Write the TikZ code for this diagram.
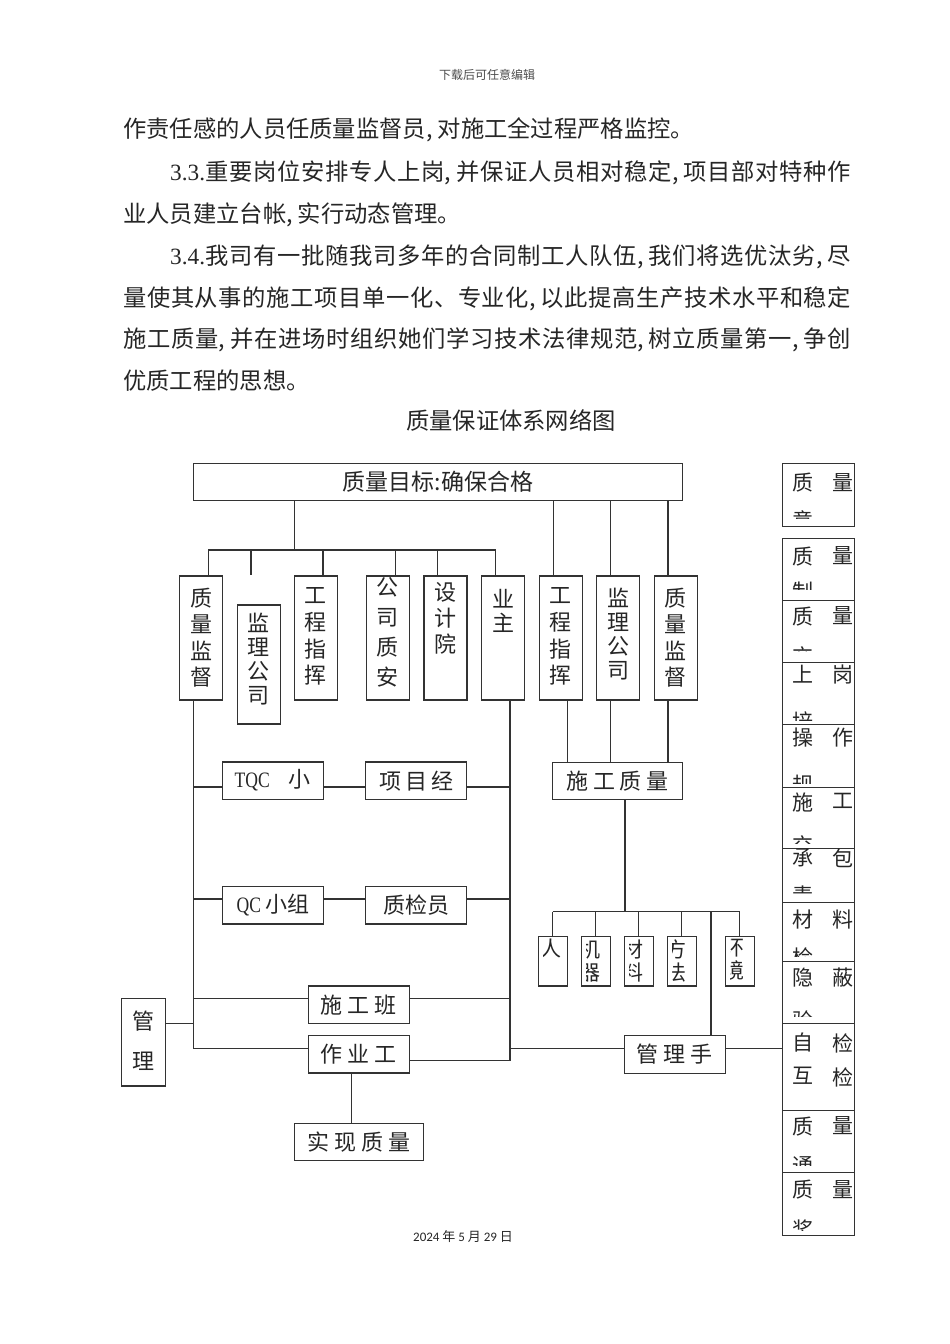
\documentclass[tikz,border=0pt]{standalone}
\usepackage{fontspec}
\setmainfont{Liberation Serif}
\newfontfamily\cjk{Noto Sans CJK SC}
\newfontfamily\latin[FakeStretch=0.8]{Liberation Serif}
\newfontfamily\datefont{Carlito}
% stretch between characters for the justified lines
\newcount\hanchar
\hanchar="4E00
\loop
  \XeTeXcharclass\hanchar=1
  \advance\hanchar 1
\ifnum\hanchar<"A000 \repeat
\XeTeXcharclass"3001=3
\XeTeXcharclass"3002=3
\XeTeXcharclass"FF0C=3
\XeTeXinterchartoks 1 1 = {\hskip 0pt plus 1fil\relax}
\XeTeXinterchartoks 0 1 = {\hskip 0pt plus 1fil\relax}
\XeTeXinterchartoks 1 0 = {\hskip 0pt plus 1fil\relax}
\XeTeXinterchartoks 1 3 = {\hskip 0pt plus 1fil\relax}
\XeTeXinterchartoks 3 1 = {\hskip 0pt plus 1fil\relax}
\newcommand\jline[2]{\hbox to #1{\XeTeXinterchartokenstate=1 #2}}
\newcommand\dou{\makebox[0.5em][l]{,}}
\begin{document}
\begin{tikzpicture}[x=1pt, y=-1pt,
  wire/.style={draw=black!80, line width=1.1pt},
  box/.style={wire, inner sep=0pt, text=black!85, font=\cjk\fontsize{22}{22}\selectfont},
  colbox/.style={box, minimum width=43pt, minimum height=124pt},
  wbox/.style={box, minimum width=101pt, minimum height=37.3pt},
  sbox/.style={box, minimum width=29pt, minimum height=49.3pt},
  kbox/.style={box, anchor=north west, minimum width=72pt},
  vtxt/.style 2 args={anchor=north, inner sep=0pt, align=center, yshift=-#1pt, text=black!85, font=\cjk\fontsize{22}{#2}\selectfont},
  stxt/.style={anchor=north, inner sep=0pt, align=center, text=black!85, font=\cjk\fontsize{21}{23}\selectfont},
  ktxt/.style={anchor=north, inner sep=0pt, text=black!85, font=\cjk\fontsize{21}{21}\selectfont},
  para/.style={anchor=west, inner sep=0pt, text=black!85, font=\cjk\fontsize{23.3}{23.3}\selectfont}]
  \path[fill=white, use as bounding box] (0,0) rectangle (950,1344);

  \node[text=black!70, font=\cjk\fontsize{12}{12}\selectfont] (head) at (487,75) {下载后可任意编辑};
  \node[para] (p1) at (123,130) {作责任感的人员任质量监督员\dou 对施工全过程严格监控。};
  \node[para] (p2) at (170,173) {\jline{681pt}{{\rmfamily 3.3.}重要岗位安排专人上岗\dou 并保证人员相对稳定\dou 项目部对特种作}};
  \node[para] (p3) at (123,215) {业人员建立台帐\dou 实行动态管理。};
  \node[para] (p4) at (170,257) {\jline{681pt}{{\rmfamily 3.4.}我司有一批随我司多年的合同制工人队伍\dou 我们将选优汰劣\dou 尽}};
  \node[para] (p5) at (123,299) {\jline{728pt}{量使其从事的施工项目单一化、专业化\dou 以此提高生产技术水平和稳定}};
  \node[para] (p6) at (123,340) {\jline{728pt}{施工质量\dou 并在进场时组织她们学习技术法律规范\dou 树立质量第一\dou 争创}};
  \node[para] (p7) at (123,381) {优质工程的思想。};
  \node[para, anchor=center] (title) at (511,420) {质量保证体系网络图};

  % goal and first row
  \node[box, font=\cjk\fontsize{23}{23}\selectfont, minimum width=489pt, minimum height=37.4pt] (goal) at (437.8,482) {质量目标:确保合格};
  \node[colbox, label={[vtxt={12}{26.5}]north:质\\量\\监\\督}] (lzl) at (201.35,638) {};
  \node[colbox, minimum height=119pt, label={[vtxt={8}{24}]north:监\\理\\公\\司}] (ljl) at (258.65,664.5) {};
  \node[colbox, label={[vtxt={12}{26.7}]north:工\\程\\指\\挥}] (lgc) at (315.8,638) {};
  \node[colbox, label={[vtxt={2}{30}]north:公\\司\\质\\安}] (gzs) at (387.85,638) {};
  \node[colbox, label={[vtxt={7}{26}]north:设\\计\\院}] (sjy) at (445.5,638) {};
  \node[colbox, label={[vtxt={14}{24}]north:业\\主}] (yz) at (503.1,638) {};
  \node[colbox, label={[vtxt={12}{26.7}]north:工\\程\\指\\挥}] (rgc) at (560.7,638) {};
  \node[colbox, label={[vtxt={12}{24}]north:监\\理\\公\\司}] (rjl) at (618.3,638) {};
  \node[colbox, label={[vtxt={12}{26.5}]north:质\\量\\监\\督}] (rzl) at (675.6,638) {};

  % middle
  \node[wbox] (tqc) at (272.8,780.65) {{\latin TQC}\hspace{19pt}小};
  \node[wbox] (xmj) at (416.35,780.65) {项\,目\,经};
  \node[wbox] (qc) at (272.8,905.35) {{\latin QC}\hspace{4pt}小组};
  \node[wbox] (zjy) at (416.35,905.35) {质检员};
  \node[wbox, minimum height=37.7pt] (sgb) at (358.8,1004.85) {施\ 工\ 班};
  \node[wbox] (zyg) at (358.8,1054.35) {作\ 业\ 工};
  \node[wbox] (glsh) at (674.9,1054.5) {管\ 理\ 手};
  \node[box, minimum width=129.5pt, minimum height=37pt] (sgzl) at (617.5,780.8) {施\ 工\ 质\ 量};
  \node[box, minimum width=129.5pt, minimum height=37pt] (sxzl) at (359,1141.8) {实\ 现\ 质\ 量};
  \node[box, minimum width=43.6pt, minimum height=87.7pt, label={[vtxt={13.4}{40}]north:管\\理}] (gl) at (143.5,1042.15) {};

  \foreach \nm/\cx/\dx/\tx in {ren/552.8/13/人, jq/595.8/9/机\\器, cl/638.8/9/材\\料, ff/681.8/9/方\\法, hj/739.7/9/环\\境}{
    \node[sbox] (\nm) at (\cx,961.35) {};
    \begin{scope}
      \clip ([xshift=6]\nm.north west) rectangle (\nm.south east);
      \node[stxt] (\nm-t) at ([xshift=\dx, yshift=-3]\nm.north west) {\tx};
    \end{scope}
  }

  % right column
  \foreach \nm/\ty/\hh/\oa/\ob/\cut/\ca/\cb/\cc/\cd in {
    k1/463.3/62.4/9.7/46.7/54.7/质/量/意/,
    k2/537.7/62.6/9/44/52/质/量/制/,
    k3/600.3/61.7/6.4/46.4/51.4/质/量/交/,
    k4/662/62/3/49.7/58/上/岗/培/,
    k5/724/63.3/4/51/59/操/作/规/,
    k6/787.3/61/5.7/47.7/55.7/施/工/交/,
    k7/848.3/53.4/0/37.7/44.7/承/包/责/,
    k8/901.7/59.3/8.3/46.3/55/材/料/检/,
    k9/961/62.3/7/49/55.7/隐/蔽/验/,
    k10/1023.3/86.7/9.7/43.7/86.7/自/检/互/检,
    k11/1110/62.3/6.7/46.7/55/质/量/通/,
    k12/1172.3/62.7/7.7/47.7/57.7/质/量/奖/}{
    \node[kbox, minimum height=\hh] (\nm) at (782.3,\ty) {};
    \begin{scope}
      \clip (\nm.north west) rectangle ([yshift=-\cut]\nm.north east);
      \node[ktxt] (\nm-a) at ([xshift=20.7, yshift=-\oa]\nm.north west) {\ca};
      \node[ktxt] (\nm-b) at ([xshift=60.7, yshift=-\oa]\nm.north west) {\cb};
      \node[ktxt] (\nm-c) at ([xshift=20.7, yshift=-\ob]\nm.north west) {\cc};
      \node[ktxt] (\nm-d) at ([xshift=60.7, yshift=-\ob]\nm.north west) {\cd};
    \end{scope}
  }

  % connectors
  \coordinate (top) at (294.3,550);
  \coordinate (b1) at (208.3,550);
  \coordinate (b2) at (251,550);
  \coordinate (b3) at (323,550);
  \coordinate (b4) at (395.2,550);
  \coordinate (b5) at (437.9,550);
  \coordinate (b6) at (495.9,550);
  \coordinate (stub) at (251,575);
  \draw[wire] (goal.south -| top) -- (top);
  \draw[wire] (b1) -- (b6);
  \draw[wire] (b2) -- (stub);
  \foreach \b/\n in {b1/lzl, b3/lgc, b4/gzs, b5/sjy, b6/yz}
    \draw[wire] (\b) -- (\b |- \n.north);

  \coordinate (g1) at (553.1,550);
  \coordinate (g2) at (610.5,550);
  \coordinate (g3) at (668,550);
  \coordinate (s1) at (567.3,730);
  \foreach \g/\n in {g1/rgc, g2/rjl, g3/rzl}
    \draw[wire] (goal.south -| \g) -- (\g |- \n.north);
  \foreach \g/\n in {s1/rgc, g2/rjl, g3/rzl}
    \draw[wire] (\n.south -| \g) -- (\g |- sgzl.north);

  \coordinate (lbus) at (193.3,1048.3);
  \coordinate (rbus) at (510,1060.7);
  \coordinate (lt1) at (193.3,787);
  \coordinate (lt2) at (193.3,899);
  \coordinate (lt3) at (193.3,998.3);
  \coordinate (lt4) at (193.3,1023.7);
  \draw[wire] (lzl.south -| lbus) -- (lbus);
  \draw[wire] (yz.south -| rbus) -- (rbus);
  \draw[wire] (lt1) -- (lt1 -| tqc.west);
  \draw[wire] (tqc.east |- lt1) -- (xmj.west |- lt1);
  \draw[wire] (xmj.east |- lt1) -- (lt1 -| rbus);
  \draw[wire] (lt2) -- (lt2 -| qc.west);
  \draw[wire] (qc.east |- lt2) -- (zjy.west |- lt2);
  \draw[wire] (zjy.east |- lt2) -- (lt2 -| rbus);
  \draw[wire] (lt3) -- (lt3 -| sgb.west);
  \draw[wire] (sgb.east |- lt3) -- (lt3 -| rbus);
  \draw[wire] (gl.east |- lt4) -- (lt4);
  \draw[wire] (lbus) -- (lbus -| zyg.west);
  \draw[wire] (zyg.east |- rbus) -- (rbus);
  \draw[wire] (rbus |- lbus) -- (lbus -| glsh.west);
  \draw[wire] (glsh.east |- lbus) -- (lbus -| k10.west);

  \coordinate (z1) at (351.7,1100);
  \draw[wire] (zyg.south -| z1) -- (z1 |- sxzl.north);

  \coordinate (f0) at (625,911.7);
  \coordinate (f5) at (711,911.7);
  \draw[wire] (sgzl.south -| f0) -- (f0);
  \draw[wire] (ren.north |- f0) -- (hj.north |- f0);
  \foreach \n in {ren, jq, cl, ff, hj}
    \draw[wire] (\n.north |- f0) -- (\n.north);
  \draw[wire] (f5) -- (f5 |- glsh.north);

  \node[text=black!85, font=\cjk\fontsize{13}{13}\selectfont] (date) at (463,1237) {{\datefont 2024} 年 {\datefont 5} 月 {\datefont 29} 日};
\end{tikzpicture}
\end{document}
